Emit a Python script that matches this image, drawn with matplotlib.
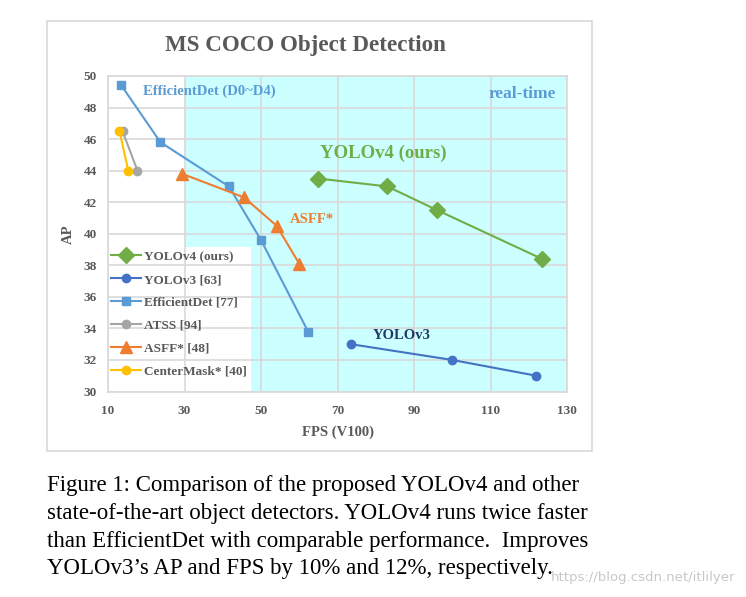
import matplotlib
matplotlib.use("Agg")
import matplotlib.pyplot as plt
from matplotlib.patches import Rectangle

plt.rcParams['font.family'] = ['Liberation Serif', 'DejaVu Serif']

# data
yolov4_fps = [65, 83, 96, 123.5]
yolov4_ap = [43.5, 43.0, 41.5, 38.4]
yolov3_fps = [73.5, 100, 122]
yolov3_ap = [33.0, 32.0, 31.0]
effdet_fps = [13.5, 23.7, 41.6, 50, 62.3]
effdet_ap = [49.4, 45.8, 43.0, 39.6, 33.8]
atss_fps = [13.8, 17.7]
atss_ap = [46.5, 44.0]
asff_fps = [29.4, 45.6, 54.1, 60.0]
asff_ap = [43.8, 42.3, 40.5, 38.1]
centermask_fps = [13.0, 15.3]
centermask_ap = [46.5, 44.0]

x_ticks = [10, 30, 50, 70, 90, 110, 130]
y_ticks = [30, 32, 34, 36, 38, 40, 42, 44, 46, 48, 50]

caption = [
    "Figure 1: Comparison of the proposed YOLOv4 and other",
    "state-of-the-art object detectors. YOLOv4 runs twice faster",
    "than EfficientDet with comparable performance.  Improves",
    "YOLOv3\u2019s AP and FPS by 10% and 12%, respectively.",
]

GREEN = "#70AD47"
BLUE = "#4472C4"
LBLUE = "#5B9BD5"
GRAY = "#A5A5A5"
ORANGE = "#ED7D31"
GOLD = "#FFC000"
TXT = "#595959"
GRID = "#D9D9D9"

fig = plt.figure(figsize=(7.46, 5.97), dpi=100)
fig.patches.append(Rectangle((0.063, 0.2446), 0.7306, 0.7203, transform=fig.transFigure,
                             fill=False, edgecolor=GRID, lw=1.2))
ax = fig.add_axes([0.1448, 0.3442, 0.6153, 0.5285])

# real-time region (white cut-out behind the legend)
ax.fill([30, 130, 130, 47.4, 47.4, 30], [50, 50, 30, 30, 39.14, 39.14],
        color="#CCFFFF", lw=0, zorder=0)

ax.set_xlim(10, 130)
ax.set_ylim(30, 50)
ax.set_xticks(x_ticks)
ax.set_yticks(y_ticks)
ax.grid(True, color=GRID, lw=1.2, zorder=1)
ax.set_axisbelow(True)
for s in ax.spines.values():
    s.set_color(GRID)
    s.set_linewidth(1.2)
ax.tick_params(length=0, labelsize=9.5, labelcolor=TXT, pad=8)
for lab in ax.get_xticklabels() + ax.get_yticklabels():
    lab.set_fontweight("bold")
ax.tick_params(axis='x', pad=10)

ax.plot(yolov4_fps, yolov4_ap, '-D', color=GREEN, lw=1.5, ms=8, label="YOLOv4 (ours)", zorder=3)
ax.plot(yolov3_fps, yolov3_ap, '-o', color=BLUE, lw=1.5, ms=6, label="YOLOv3 [63]", zorder=3)
ax.plot(effdet_fps, effdet_ap, '-s', color=LBLUE, lw=1.5, ms=5.5, label="EfficientDet [77]", zorder=3)
ax.plot(atss_fps, atss_ap, '-o', color=GRAY, lw=1.5, ms=6, label="ATSS [94]", zorder=3)
ax.plot(asff_fps, asff_ap, '-^', color=ORANGE, lw=1.5, ms=9, label="ASFF* [48]", zorder=3)
ax.plot(centermask_fps, centermask_ap, '-o', color=GOLD, lw=1.5, ms=6, label="CenterMask* [40]", zorder=3)

leg = ax.legend(loc="lower left", bbox_to_anchor=(-0.005, 0.027), frameon=False,
                prop={'weight': 'bold', 'size': 9.5}, handlelength=2.3,
                handletextpad=0.2, labelspacing=0.81, borderaxespad=0)
for t in leg.get_texts():
    t.set_color(TXT)

ax.text(19.2, 49.05, "EfficientDet (D0~D4)", color=LBLUE, fontsize=10.5,
        fontweight="bold", va="center", ha="left")
ax.text(127.1, 48.86, "real-time", color=LBLUE, fontsize=12.5,
        fontweight="bold", va="center", ha="right")
ax.text(65.4, 45.1, "YOLOv4 (ours)", color=GREEN, fontsize=13.5,
        fontweight="bold", va="center", ha="left")
ax.text(57.6, 40.9, "ASFF*", color=ORANGE, fontsize=10.5,
        fontweight="bold", va="center", ha="left")
ax.text(79.3, 33.56, "YOLOv3", color="#203864", fontsize=10.5,
        fontweight="bold", va="center", ha="left")

ax.set_xlabel("FPS (V100)", fontsize=10.5, fontweight="bold", color=TXT, labelpad=6)
ax.set_ylabel("AP", fontsize=10.5, fontweight="bold", color=TXT, labelpad=6)

fig.text(305 / 746, 1 - 46 / 597, "MS COCO Object Detection", fontsize=16.6,
         fontweight="bold", color=TXT, ha="center", va="center")

for i, line in enumerate(caption):
    fig.text(47 / 746, 1 - (486 + i * 27.5) / 597, line, fontsize=16.5,
             color="black", ha="left", va="center")

fig.text(735 / 746, 1 - 578 / 597, "https://blog.csdn.net/itlilyer", fontsize=9.5,
         color="#C8C8C8", ha="right", va="center", family="DejaVu Sans")

fig.savefig("out.png", dpi=100)
